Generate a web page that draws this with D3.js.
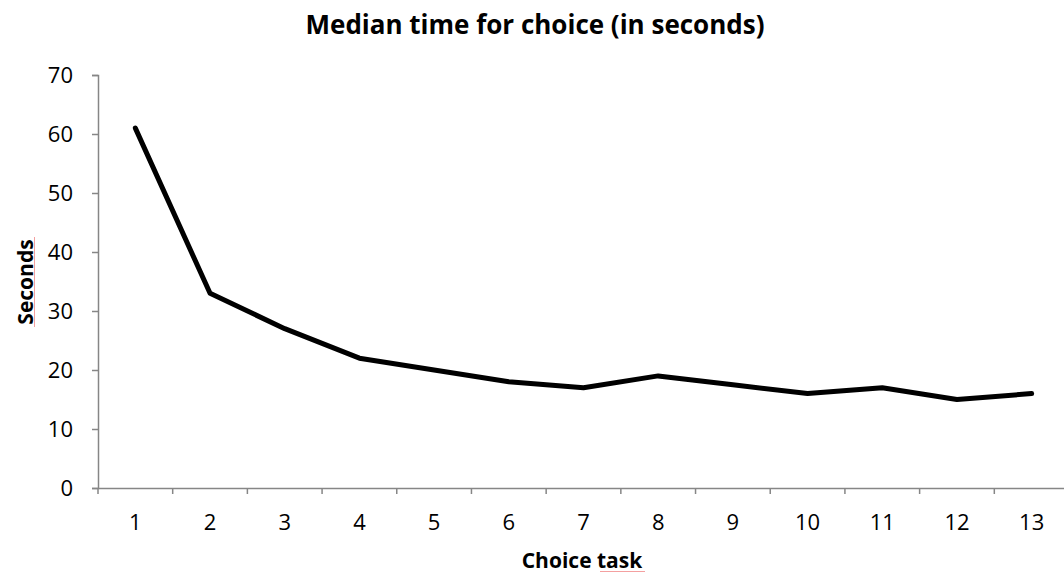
<!DOCTYPE html>
<html>
<head>
<meta charset="utf-8">
<script src="https://cdn.jsdelivr.net/npm/d3@7"></script>
<style>
    body { margin: 0; background: #fff; }
    svg { display: block; font-family: "Open Sans", sans-serif; }
</style>
</head>
<body>
<div id="chart"></div>
<script>
var tasks = ["1", "2", "3", "4", "5", "6", "7", "8", "9", "10", "11", "12", "13"];
var medianSeconds = [61, 33, 27, 22, 20, 18, 17, 19, 17.5, 16, 17, 15, 16];
var yTicks = [0, 10, 20, 30, 40, 50, 60, 70];

var width = 1064, height = 573;
var plotLeft = 98, plotTop = 75, plotBottom = 488;
var plotRight = 1069; // plot area runs past the right edge of the picture

var svg = d3.select("#chart")
    .append("svg")
    .attr("width", width)
    .attr("height", height);

var x = d3.scaleBand()
    .domain(tasks)
    .range([plotLeft, plotRight]);

var y = d3.scaleLinear()
    .domain([0, 70])
    .range([plotBottom, plotTop]);

// y axis
var yAxis = svg.append("g")
    .attr("transform", "translate(" + plotLeft + ",0)")
    .call(d3.axisLeft(y).tickValues(yTicks).tickSize(6).tickPadding(19));

// x axis, ticks on band edges
var xAxis = svg.append("g")
    .attr("transform", "translate(0," + plotBottom + ")")
    .call(d3.axisBottom(x).tickSize(0).tickPadding(26));

xAxis.selectAll(".edge")
    .data(tasks)
    .enter()
    .append("line")
    .attr("class", "edge")
    .attr("x1", function (d) { return x(d); })
    .attr("x2", function (d) { return x(d); })
    .attr("y1", 0)
    .attr("y2", 6);

[yAxis, xAxis].forEach(function (ax) {
    ax.select(".domain").attr("stroke", "#868686").attr("stroke-width", 1.5);
    ax.selectAll("line").attr("stroke", "#868686").attr("stroke-width", 1.5);
    ax.selectAll("text")
        .attr("fill", "#000")
        .style("font-family", "'Open Sans', sans-serif")
        .style("font-size", "22px");
});

// the series line
var line = d3.line()
    .x(function (d, i) { return x(tasks[i]) + x.bandwidth() / 2; })
    .y(function (d) { return y(d); });

svg.append("path")
    .datum(medianSeconds)
    .attr("d", line)
    .attr("fill", "none")
    .attr("stroke", "#000")
    .attr("stroke-width", 5)
    .attr("stroke-linejoin", "round")
    .attr("stroke-linecap", "round");

// titles
svg.append("text")
    .attr("x", 535)
    .attr("y", 34)
    .attr("text-anchor", "middle")
    .style("font-weight", "bold")
    .style("font-size", "26px")
    .text("Median time for choice (in seconds)");

svg.append("text")
    .attr("x", 582)
    .attr("y", 568)
    .attr("text-anchor", "middle")
    .style("font-weight", "bold")
    .style("font-size", "21px")
    .text("Choice task");

svg.append("text")
    .attr("transform", "translate(33,282) rotate(-90)")
    .attr("text-anchor", "middle")
    .style("font-weight", "bold")
    .style("font-size", "21px")
    .text("Seconds");

// faint spell-check marks seen in the source screenshot
svg.append("line")
    .attr("x1", 600).attr("x2", 645).attr("y1", 571.5).attr("y2", 571.5)
    .attr("stroke", "#f4a0a0").attr("stroke-width", 1);
svg.append("line")
    .attr("x1", 34.5).attr("x2", 34.5).attr("y1", 237).attr("y2", 327)
    .attr("stroke", "#f4a0a0").attr("stroke-width", 1);
</script>
</body>
</html>
